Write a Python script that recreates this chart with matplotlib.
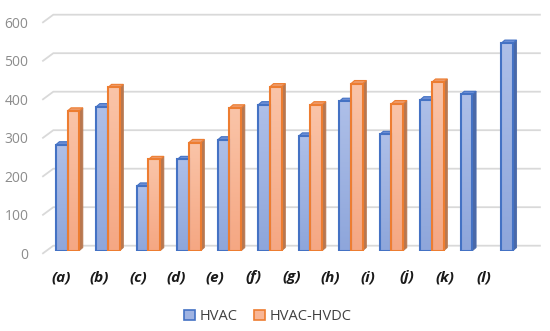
import numpy as np
import matplotlib
matplotlib.use('Agg')
import matplotlib.pyplot as plt
from matplotlib.patches import Polygon
from matplotlib.transforms import ScaledTranslation

# values
categories = ['(a)', '(b)', '(c)', '(d)', '(e)', '(f)', '(g)', '(h)', '(i)', '(j)', '(k)', '(l)']
hvac = [275, 374, 168, 237, 288, 379, 298, 388, 302, 392, 406, 539]
hvac_hvdc = [363, 424, 237, 281, 371, 426, 379, 434, 382, 438, None, None]
y_ticks = [0, 100, 200, 300, 400, 500, 600]

plt.rcParams['font.family'] = ['Open Sans', 'DejaVu Sans']

fig = plt.figure(figsize=(5.5, 3.31), dpi=100)
W, H = 550, 331
# axes = the plane the bars stand in
ax_l, ax_r, ax_b, ax_t = 46.4, 533, 250.7, 19.7
ax = fig.add_axes([ax_l / W, (H - ax_b) / H, (ax_r - ax_l) / W, (ax_b - ax_t) / H])
xlim = (-0.521, 11.494)
ax.set_xlim(*xlim)
ax.set_ylim(0, 600)
for s in ax.spines.values():
    s.set_visible(False)

# pixel -> data helpers
px_x = (xlim[1] - xlim[0]) / (ax_r - ax_l)
px_y = 600 / (ax_b - ax_t)

# gridlines: slanted from the front edge back to the wall, then across the wall
fx, fy = -3.4 * px_x, -2.6 * px_y
bx, by = 6.9 * px_x, 5.0 * px_y
x0, x1 = xlim
for v in y_ticks:
    ax.plot([x0 + fx, x0 + bx, x1 + bx], [v + fy, v + by, v + by],
            color='#d9d9d9', lw=1.3, clip_on=False, zorder=0)

bw = 0.29
dx, dy = 3.6 * px_x, 3.1 * px_y
x = np.arange(len(categories))


def bar3d(xl, h, face_top, face_bot, edge, side, top):
    xr = xl + bw
    grad = np.linspace(0, 1, 50).reshape(-1, 1)
    cmap = matplotlib.colors.LinearSegmentedColormap.from_list('g', [face_bot, face_top])
    ax.imshow(grad, extent=(xl, xr, 0, h), origin='lower', cmap=cmap,
              aspect='auto', zorder=2, interpolation='bilinear')
    ax.add_patch(Polygon([(xr, 0), (xr + dx, dy), (xr + dx, h + dy), (xr, h)],
                         closed=True, fc=side, ec=side, lw=0.6, zorder=2))
    ax.add_patch(Polygon([(xl, h), (xl + dx, h + dy), (xr + dx, h + dy), (xr, h)],
                         closed=True, fc=top, ec=edge, lw=0.8, zorder=2))
    ax.add_patch(plt.Rectangle((xl, 0), bw, h, fill=False, ec=edge, lw=1.5, zorder=3))


for i in x:
    bar3d(i - bw, hvac[i], '#aebfe8', '#8ea6db', '#4472c4', '#4a69a8', '#6d8fd6')
    if hvac_hvdc[i] is not None:
        bar3d(i, hvac_hvdc[i], '#fac4a8', '#f5a783', '#ed7d31', '#b8774f', '#ee9a68')

ax.set_xlim(*xlim)
ax.set_ylim(0, 600)

# value labels sit on the front edge
ax.set_yticks(y_ticks)
ax.tick_params(axis='y', length=0, pad=13, labelsize=10, labelcolor='#8c8c8c')
for lab in ax.get_yticklabels():
    lab.set_transform(lab.get_transform() + ScaledTranslation(0, -2.6 / 100, fig.dpi_scale_trans))

# category labels sit on the front floor edge
ax.set_xticks(x * 0.948 - 0.16)
ax.set_xticklabels(categories, fontsize=11, fontweight='bold', fontstyle='italic',
                   color='#1a1a1a')
ax.tick_params(axis='x', length=0, pad=14)

h1 = plt.Rectangle((0, 0), 1, 1, fc='#9fb3e2', ec='#4472c4', lw=1.2)
h2 = plt.Rectangle((0, 0), 1, 1, fc='#f8b696', ec='#ed7d31', lw=1.2)
fig.legend([h1, h2], ['HVAC', 'HVAC-HVDC'], loc='center',
           bbox_to_anchor=(0.5 - 7 / W, 1 - 316.5 / H),
           ncol=2, frameon=False, fontsize=10.5, labelcolor='#404040',
           handlelength=0.75, handleheight=0.75, handletextpad=0.35, columnspacing=1.1)

fig.savefig('out.png', dpi=100, facecolor='white')
